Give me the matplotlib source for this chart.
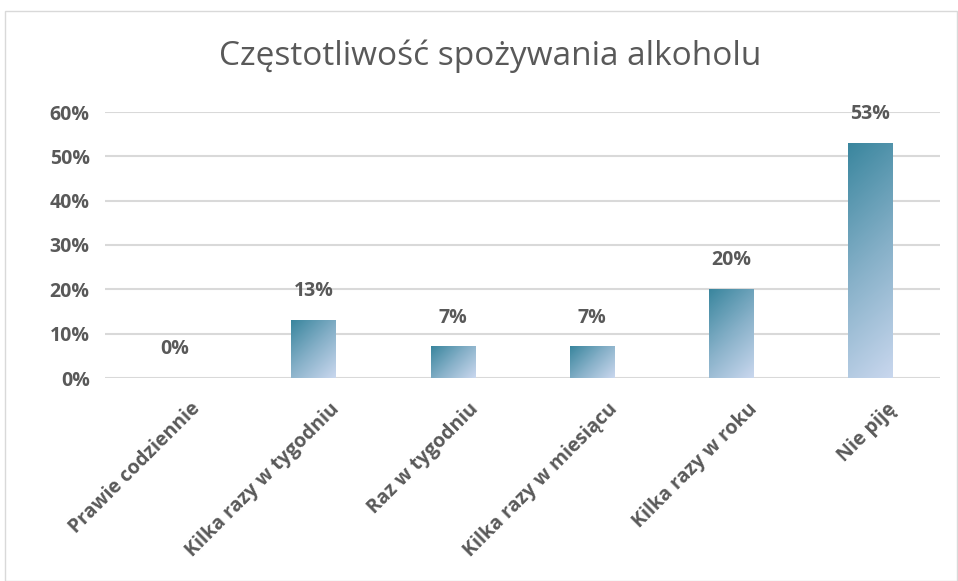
import matplotlib
matplotlib.use("Agg")
import matplotlib.pyplot as plt
import numpy as np
from matplotlib.colors import LinearSegmentedColormap
from matplotlib.patches import Rectangle
from matplotlib.transforms import ScaledTranslation

categories = ["Prawie codziennie", "Kilka razy w tygodniu", "Raz w tygodniu",
              "Kilka razy w miesiącu", "Kilka razy w roku", "Nie piję"]
values = [0, 13, 7, 7, 20, 53]
yticks = [0, 10, 20, 30, 40, 50, 60]
title = "Częstotliwość spożywania alkoholu"

plt.rcParams['font.family'] = ['Open Sans', 'DejaVu Sans']
txt = "#595959"
fs = 14

W, H = 958, 581
fig = plt.figure(figsize=(W/100, H/100), dpi=100)
fig.patches.append(Rectangle((5/W, 0), 1 - 6/W, 1 - 11/H, transform=fig.transFigure,
                             fill=False, edgecolor="#d9d9d9", linewidth=1.0))
ax_left, ax_right, ax_top, ax_bot = 105, 940, 112, 378
ax = fig.add_axes([ax_left/W, 1 - ax_bot/H, (ax_right - ax_left)/W, (ax_bot - ax_top)/H])
ax.set_xlim(-0.5, len(categories) - 0.5)
ax.set_ylim(0, 60)

cmap = LinearSegmentedColormap.from_list("g", ["#3a869e", "#86b0c8", "#c9d7ee"])
px_per_x = (ax_right - ax_left) / len(categories)
px_per_y = (ax_bot - ax_top) / 60.0

w = 0.32
for i, v in enumerate(values):
    if v > 0:
        bw = w * px_per_x
        bh = v * px_per_y
        nx, ny = max(int(bw), 2), max(int(bh), 2)
        xx = np.linspace(0, bw, nx)
        yy = np.linspace(0, bh, ny)
        grad = np.add.outer(yy, xx) / (bw + bh)
        ax.imshow(grad, cmap=cmap, extent=(i - w/2, i + w/2, 0, v), origin="upper",
                  aspect="auto", zorder=2, interpolation="bilinear", vmin=0, vmax=1)
    ax.annotate(f"{v}%", (i, v), xytext=(0, 21), textcoords="offset points",
                ha="center", va="center", fontsize=fs, fontweight="bold", color=txt)

ax.set_yticks(yticks)
ax.set_yticklabels([f"{t}%" for t in yticks], fontsize=fs, fontweight="bold", color=txt)
ax.yaxis.grid(True, color="#d9d9d9", linewidth=1.5)
ax.set_axisbelow(True)
ax.set_xticks(range(len(categories)))
ax.set_xticklabels([])
ax.tick_params(length=0, axis="both")
ax.tick_params(axis="y", pad=11)
for s in ax.spines.values():
    s.set_visible(False)

off = ax.get_xaxis_transform() + ScaledTranslation(23/100, -28/100, fig.dpi_scale_trans)
for i, c in enumerate(categories):
    ax.text(i, 0, c, transform=off, rotation=45, ha="right", va="center",
            rotation_mode="anchor", fontsize=fs, fontweight="bold", color=txt)

fig.text(490/W, 1 - 56/H, title, ha="center", va="center", fontsize=24, color=txt)

fig.savefig("out.png", dpi=100)
